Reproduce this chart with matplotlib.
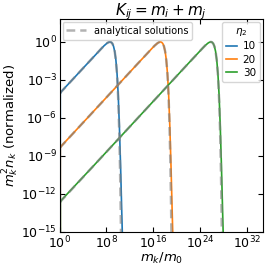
import numpy as np
import matplotlib
matplotlib.use("Agg")
import matplotlib.pyplot as plt
from matplotlib.lines import Line2D

# values, as log10(m_k/m_0) and log10(m_k^2 n_k)
eta2_labels = ["10", "20", "30"]
colors = ["tab:blue", "tab:orange", "tab:green"]

# numerical solutions (solid)
blue_logm = [0.12, 0.12, 0.3, 2.6, 4.6, 6.6, 7.1, 7.6, 7.85, 8.1, 8.35, 8.6, 8.8, 9.0, 9.2, 9.4, 9.6, 9.8, 10.0, 10.2, 10.4, 10.6, 10.75]
blue_logy = [-16.0, -4.10, -3.92, -2.78, -1.78, -0.79, -0.54, -0.30, -0.20, -0.10, -0.03, 0.0, -0.03, -0.13, -0.35, -0.75, -1.43, -2.52, -4.2, -6.7, -9.8, -13.4, -16.0]

orange_logm = [0.12, 0.12, 0.3, 5.2, 9.2, 13.2, 15.2, 15.7, 16.2, 16.45, 16.7, 16.95, 17.2, 17.4, 17.6, 17.8, 18.0, 18.2, 18.4, 18.6, 18.8, 19.0, 19.2, 19.35]
orange_logy = [-16.0, -8.38, -8.22, -5.78, -3.78, -1.78, -0.79, -0.54, -0.30, -0.20, -0.10, -0.03, 0.0, -0.03, -0.13, -0.35, -0.75, -1.43, -2.52, -4.2, -6.7, -9.8, -13.4, -16.0]

green_logm = [0.12, 0.12, 0.3, 5.8, 10.8, 15.8, 21.8, 23.8, 24.3, 24.8, 25.05, 25.3, 25.55, 25.8, 26.0, 26.2, 26.4, 26.6, 26.8, 27.0, 27.2, 27.4, 27.6, 27.8, 27.95]
green_logy = [-16.0, -12.68, -12.50, -9.78, -7.28, -4.78, -1.78, -0.79, -0.54, -0.30, -0.20, -0.10, -0.03, 0.0, -0.03, -0.13, -0.35, -0.75, -1.43, -2.52, -4.2, -6.7, -9.8, -13.4, -16.0]

# analytical solutions (dashed)
blue_an_logm = [0.0, 2.6, 4.6, 6.6, 7.1, 7.6, 7.85, 8.1, 8.35, 8.6, 8.8, 9.0, 9.2, 9.4, 9.6, 9.8, 9.9, 10.0, 10.1, 10.2, 10.3, 10.4, 10.5]
blue_an_logy = [-4.08, -2.78, -1.78, -0.79, -0.54, -0.30, -0.20, -0.10, -0.03, 0.0, -0.03, -0.13, -0.35, -0.75, -1.45, -2.62, -3.46, -4.54, -5.90, -7.63, -9.81, -12.58, -16.07]

orange_an_logm = [0.0, 5.2, 9.2, 13.2, 15.2, 15.7, 16.2, 16.45, 16.7, 16.95, 17.2, 17.4, 17.6, 17.8, 18.0, 18.2, 18.4, 18.5, 18.6, 18.7, 18.8, 18.9, 19.0, 19.1]
orange_an_logy = [-8.38, -5.78, -3.78, -1.78, -0.79, -0.54, -0.30, -0.20, -0.10, -0.03, 0.0, -0.03, -0.13, -0.35, -0.75, -1.45, -2.62, -3.46, -4.54, -5.90, -7.63, -9.81, -12.58, -16.07]

green_an_logm = [0.0, 5.8, 10.8, 15.8, 21.8, 23.8, 24.3, 24.8, 25.05, 25.3, 25.55, 25.8, 26.0, 26.2, 26.4, 26.6, 26.8, 27.0, 27.1, 27.2, 27.3, 27.4, 27.5, 27.6, 27.7]
green_an_logy = [-12.68, -9.78, -7.28, -4.78, -1.78, -0.79, -0.54, -0.30, -0.20, -0.10, -0.03, 0.0, -0.03, -0.13, -0.35, -0.75, -1.45, -2.62, -3.46, -4.54, -5.90, -7.63, -9.81, -12.58, -16.07]

numerical = [(blue_logm, blue_logy), (orange_logm, orange_logy), (green_logm, green_logy)]
analytical = [(blue_an_logm, blue_an_logy), (orange_an_logm, orange_an_logy), (green_an_logm, green_an_logy)]

x_ticks = [1e0, 1e8, 1e16, 1e24, 1e32]
y_ticks = [1e-15, 1e-12, 1e-9, 1e-6, 1e-3, 1e0]

fig = plt.figure(figsize=(2.66, 2.65), dpi=100)
ax = fig.add_axes([0.224, 0.125, 0.765, 0.803])

num_handles = []
for (lm, ly), c, lab in zip(numerical, colors, eta2_labels):
    h, = ax.plot(10.0 ** np.array(lm), 10.0 ** np.array(ly), color=c, lw=1.2, label=lab)
    num_handles.append(h)

for lm, ly in analytical:
    ax.plot(10.0 ** np.array(lm), 10.0 ** np.array(ly), color="gray", lw=1.8,
            ls=(0, (3.5, 2)), alpha=0.6)

ax.set_xscale("log")
ax.set_yscale("log")
ax.set_xlim(1e0, 10 ** 34.7)
ax.set_ylim(1e-15, 10 ** 1.8)
ax.set_xticks(x_ticks)
ax.set_yticks(y_ticks)
ax.minorticks_off()
ax.tick_params(direction="in", top=True, right=True, labelsize=9, length=3.5, pad=2)

ax.set_xlabel(r"$m_k/m_0$", fontsize=9.5, labelpad=0)
ax.set_ylabel(r"$m_k^2 n_k$ (normalized)", fontsize=9.5, labelpad=0)
ax.set_title(r"$K_{ij} = m_i + m_j$", fontsize=11, pad=3)

an_handle = Line2D([], [], color="gray", lw=1.8, ls=(0, (3.5, 2)), alpha=0.6)
leg1 = ax.legend([an_handle], ["analytical solutions"], loc="upper left", fontsize=7,
                 handlelength=2.0, borderpad=0.4, borderaxespad=0.3)
ax.add_artist(leg1)
ax.legend(handles=num_handles, title=r"$\eta_2$", loc="upper right", fontsize=7.5,
          title_fontsize=7.5, handlelength=1.1, handletextpad=0.5, borderpad=0.4,
          borderaxespad=0.3, labelspacing=0.3)

fig.savefig("out.png", dpi=100)
